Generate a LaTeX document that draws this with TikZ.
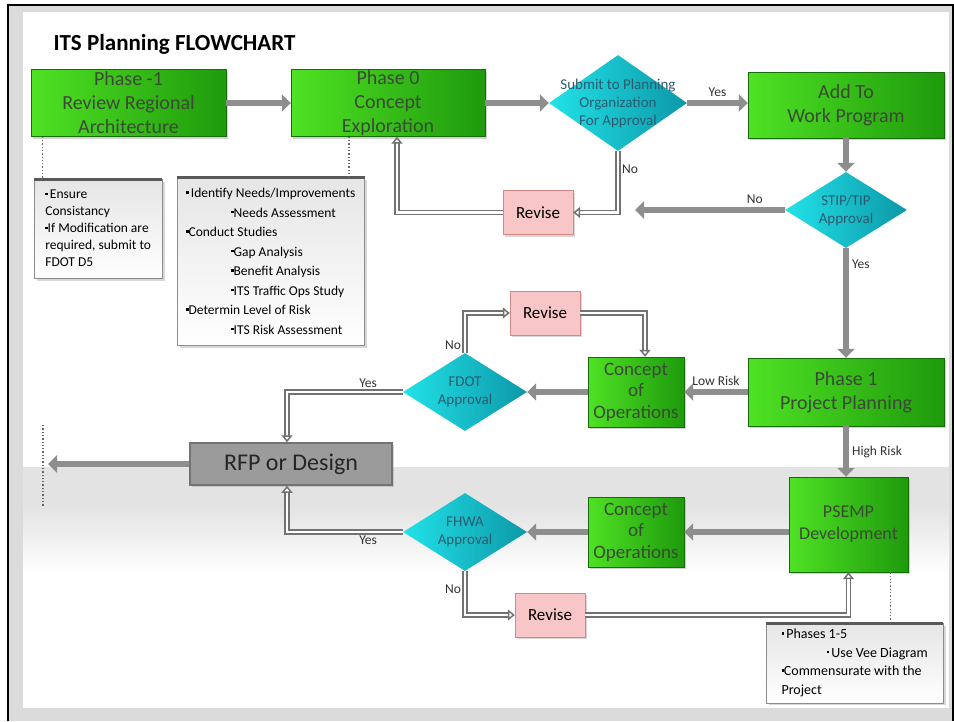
\documentclass[tikz,border=0pt]{standalone}
\usepackage{fontspec}
\setmainfont{Carlito}
\usetikzlibrary{arrows.meta, shapes.geometric, shadows, positioning}

\definecolor{boxlight}{HTML}{4FE224}
\definecolor{boxdark}{HTML}{1E9A0C}
\definecolor{boxtext}{HTML}{3B4A34}
\definecolor{decilight}{HTML}{22E2E8}
\definecolor{decidark}{HTML}{0C98A8}
\definecolor{decitext}{HTML}{2A5C70}
\definecolor{revfill}{HTML}{F8C6C6}
\definecolor{revline}{HTML}{D08888}
\definecolor{rfpfill}{HTML}{9B9B9B}
\definecolor{arrowgray}{HTML}{8E8E8E}
\definecolor{bandgray}{HTML}{E3E3E3}

\newcommand{\bul}{\raisebox{0.3em}{\rule{2.4pt}{2.4pt}}}

\begin{document}
\begin{tikzpicture}[
            x = 1pt, y = -1pt, % one unit per pixel of the slide
            > = {Triangle[length=9pt, width=17pt]},
            font = \fontsize{13}{15}\selectfont
        ]

        \tikzstyle{phase}=[
            draw = boxdark!70!black,
            left color = boxlight,
            right color = boxdark,
            text = boxtext,
            align = center,
            inner sep = 0pt,
            font = \fontsize{20}{24}\selectfont,
            drop shadow = {opacity=0.35}
        ]
        \tikzstyle{decision}=[
            diamond,
            left color = decilight,
            right color = decidark,
            inner sep = 0pt
        ]
        \tikzstyle{revise}=[
            draw = revline,
            fill = revfill,
            minimum width = 70pt,
            minimum height = 44pt,
            font = \fontsize{17}{20}\selectfont,
            drop shadow = {opacity=0.3}
        ]
        \tikzstyle{memo}=[
            draw = black!45,
            top color = black!10,
            bottom color = white,
            anchor = north west,
            align = left,
            inner xsep = 9pt,
            inner ysep = 6pt,
            font = \fontsize{13.5}{19.5}\selectfont,
            drop shadow = {opacity=0.3}
        ]
        \tikzstyle{memobar}=[line width = 3pt, black!65]
        \tikzstyle{memolink}=[dotted, line width = 1.3pt, black!60]
        \tikzstyle{mainflow}=[->, arrowgray, line width = 5.5pt]
        \tikzstyle{backflow}=[
            -{Triangle[open, length=7pt, width=11pt, fill=white]},
            draw = arrowgray!80!black,
            double = white,
            double distance = 2.5pt,
            line width = 1.5pt
        ]
        \tikzstyle{lbl}=[text = black!80, font = \fontsize{13.5}{15}\selectfont]
        \tikzstyle{asks}=[align = center, text = decitext, font = \fontsize{15}{18}\selectfont]

        % slide frame and grey band
        \useasboundingbox (0,0) rectangle (954,721);
        \fill[black!14] (8,5) rectangle (954,721);
        \draw[line width = 2pt] (8,721) -- (8,5) -- (953,5) -- (953,721);
        \fill[white] (23,12) rectangle (949,708);
        \fill[bandgray] (23,467) rectangle (949,506);
        \shade[top color = bandgray, bottom color = white] (23,505) rectangle (949,575);

        \node[anchor = west, font = \bfseries\fontsize{23}{26}\selectfont] (title) at (50,44) {ITS Planning FLOWCHART};

        % phases
        \node[phase, minimum width = 195pt, minimum height = 67pt] (pm1) at (128.5,103) {Phase -1\\Review Regional\\Architecture};
        \node[phase, minimum width = 194pt, minimum height = 67pt] (p0) at (388,103) {Phase 0\\Concept\\Exploration};
        \node[phase, minimum width = 196pt, minimum height = 66pt] (add) at (846,105) {Add To\\Work Program};
        \node[phase, minimum width = 196pt, minimum height = 68pt] (p1) at (846,392) {Phase 1\\Project Planning};
        \node[phase, minimum width = 96pt, minimum height = 70pt, font = \fontsize{19}{21.5}\selectfont] (cop1) at (636,392) {Concept\\of\\Operations};
        \node[phase, minimum width = 96pt, minimum height = 70pt, font = \fontsize{19}{21.5}\selectfont] (cop2) at (636,532) {Concept\\of\\Operations};
        \node[phase, minimum width = 119pt, minimum height = 95pt, font = \fontsize{18}{22}\selectfont] (psemp) at (848.5,524.5) {PSEMP\\Development};

        % decisions
        \node[decision, minimum width = 138pt, minimum height = 96pt,
            label = {[asks]center:Submit to Planning\\Organization\\For Approval}] (sub) at (618,103) {};
        \node[decision, minimum width = 122pt, minimum height = 76pt,
            label = {[asks]center:STIP/TIP\\Approval}] (stip) at (846,210) {};
        \node[decision, minimum width = 124pt, minimum height = 78pt,
            label = {[asks]center:FDOT\\Approval}] (fdot) at (465,392) {};
        \node[decision, minimum width = 124pt, minimum height = 78pt,
            label = {[asks]center:FHWA\\Approval}] (fhwa) at (465,532) {};

        % revise steps
        \node[revise] (rev1) at (538,212.5) {Revise};
        \node[revise] (rev2) at (545,313) {Revise};
        \node[revise] (rev3) at (550,615) {Revise};

        \node[draw = black!55, line width = 1.5pt, fill = rfpfill, minimum width = 202pt, minimum height = 42pt,
            font = \fontsize{24}{28}\selectfont, text = black!85, drop shadow = {opacity=0.3}] (rfp) at (291,464) {RFP or Design};

        % notes
        \node[memo, minimum width = 128pt, minimum height = 99pt, font = \fontsize{13.5}{17}\selectfont] (note1) at (34,179)
            {\bul\,Ensure\\Consistancy\\\bul If Modification are\\required, submit to\\FDOT D5};
        \node[memo, minimum width = 187pt, minimum height = 168pt, inner ysep = 4pt] (note2) at (177,177)
            {\bul\,Identify Needs/Improvements\\
             \hspace*{45pt}\bul Needs Assessment\\
             \bul Conduct Studies\\
             \hspace*{45pt}\bul Gap Analysis\\
             \hspace*{45pt}\bul Benefit Analysis\\
             \hspace*{45pt}\bul ITS Traffic Ops Study\\
             \bul Determin Level of Risk\\
             \hspace*{45pt}\bul ITS Risk Assessment};
        \node[memo, minimum width = 177pt, minimum height = 79pt, font = \fontsize{14}{18.5}\selectfont] (note3) at (766,623)
            {\bul\,Phases 1-5\\
             \hspace*{45pt}\bul\,Use Vee Diagram\\
             \bul Commensurate with the\\Project};
        \foreach \n in {note1, note2, note3}
            \draw[memobar] (\n.north west) -- (\n.north east);

        \draw[memolink] ([xshift = 12pt]pm1.south west) -- ([xshift = 12pt]pm1.south west |- note1.north);
        \draw[memolink] ([xshift = -39pt]p0.south) -- ([xshift = -39pt]p0.south |- note2.north);
        \draw[memolink] ([xshift = -18pt]psemp.south east) -- ([xshift = -18pt]psemp.south east |- note3.north);

        \coordinate (stipno) at (635,210);
        \coordinate (exit) at (48,464);
        \draw[memolink] (43,425) -- (43,506);

        % connectors
        \draw[mainflow] (pm1) -- (p0);
        \draw[mainflow] (p0) -- (sub);
        \draw[mainflow] (sub.east) -- (sub.east -| add.west) node[midway, above, lbl] {Yes};
        \draw[mainflow] (add) -- (stip);
        \draw[mainflow] (stip.west) -- (stipno) node[pos = 0.2, above, lbl] {No};
        \draw[mainflow] (stip.south) -- (p1.north) node[pos = 0.15, right, lbl] {Yes};
        \draw[mainflow] (p1) -- (cop1) node[midway, above, lbl] {Low Risk};
        \draw[mainflow] (cop1) -- (fdot);
        \draw[mainflow] (p1.south) -- (p1.south |- psemp.north) node[midway, right, lbl] {High Risk};
        \draw[mainflow] (psemp.west |- cop2.east) -- (cop2.east);
        \draw[mainflow] (cop2) -- (fhwa);
        \draw[mainflow] (rfp.west) -- (exit);

        \draw[backflow] (sub.south) |- (rev1.east) node[pos = 0.15, right, lbl] {No};
        \draw[backflow] (rev1.west) -| ([xshift = 9pt]p0.south);
        \draw[backflow] (fdot.north) |- (rev2.west) node[pos = 0.1, left, lbl] {No};
        \draw[backflow] (rev2.east) -| ([xshift = 9pt]cop1.north);
        \draw[backflow] (fdot.west) -| ([xshift = -4pt]rfp.north) node[pos = 0.15, above, lbl] {Yes};
        \draw[backflow] (fhwa.west) -| ([xshift = -4pt]rfp.south) node[pos = 0.15, below, lbl] {Yes};
        \draw[backflow] (fhwa.south) |- (rev3.west) node[pos = 0.2, left, lbl] {No};
        \draw[backflow] (rev3.east) -| (psemp.south);

  \end{tikzpicture}
\end{document}
